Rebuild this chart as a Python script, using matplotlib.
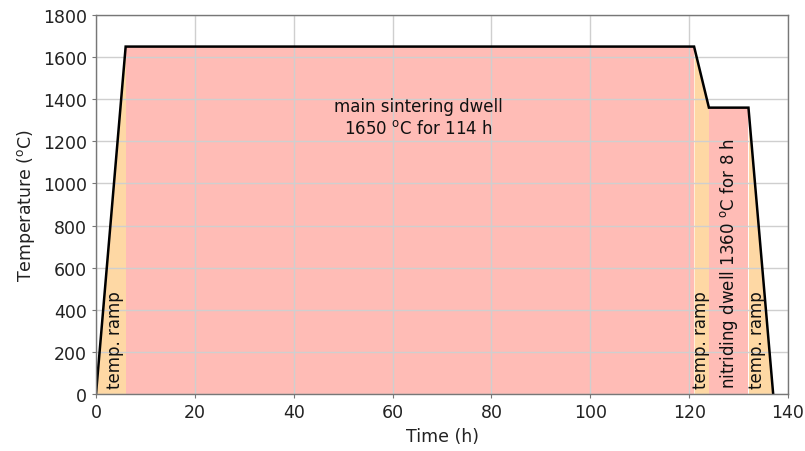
import matplotlib
matplotlib.use("Agg")
import matplotlib.pyplot as plt
import numpy as np

# profile vertices (time h, temperature °C)
times = [0, 6, 121, 124, 132, 137]
temps = [0, 1650, 1650, 1360, 1360, 0]
# segment kinds: ramp / dwell
segments = ["ramp", "dwell", "ramp", "dwell", "ramp"]

xticks = [0, 20, 40, 60, 80, 100, 120, 140]
yticks = [0, 200, 400, 600, 800, 1000, 1200, 1400, 1600, 1800]

colors = {"ramp": "#FED8A4", "dwell": "#FFBCB6"}

fig = plt.figure(figsize=(8.05, 4.52), dpi=100)
ax = fig.add_axes([96/805, 1-395/452, (788-96)/805, (395-16)/452])

for i, kind in enumerate(segments):
    ax.fill_between(times[i:i+2], temps[i:i+2], 0, color=colors[kind], lw=0, zorder=1)

ax.plot(times, temps, color="black", lw=1.8, zorder=3, solid_joinstyle="miter")

ax.set_xlim(0, 140)
ax.set_ylim(0, 1800)
ax.set_xticks(xticks)
ax.set_yticks(yticks)
ax.grid(True, color="#cfcfcf", lw=1.0, zorder=2)
ax.set_axisbelow(False)
for s in ax.spines.values():
    s.set_color("#777777")
    s.set_linewidth(1.0)
    s.set_zorder(4)
ax.tick_params(labelsize=12.5, colors="#222222", length=3, color="#777777")
ax.set_xlabel("Time (h)", fontsize=12.5, color="#222222")
ax.set_ylabel("Temperature ($^{\\rm o}$C)", fontsize=12.5, color="#222222")

fs = 12
ax.text(65.3, 1315, "main sintering dwell\n1650 $^{\\rm o}$C for 114 h", ha="center", va="center",
        fontsize=fs, color="#111111", zorder=5, linespacing=1.25)
ax.text(3.8, 30, "temp. ramp", rotation=90, ha="center", va="bottom", fontsize=fs, color="#111111", zorder=5)
ax.text(122.3, 30, "temp. ramp", rotation=90, ha="center", va="bottom", fontsize=fs, color="#111111", zorder=5)
ax.text(128.0, 30, "nitriding dwell 1360 $^{\\rm o}$C for 8 h", rotation=90, ha="center", va="bottom",
        fontsize=fs, color="#111111", zorder=5)
ax.text(133.8, 30, "temp. ramp", rotation=90, ha="center", va="bottom", fontsize=fs, color="#111111", zorder=5)

fig.savefig("out.png", dpi=100)
